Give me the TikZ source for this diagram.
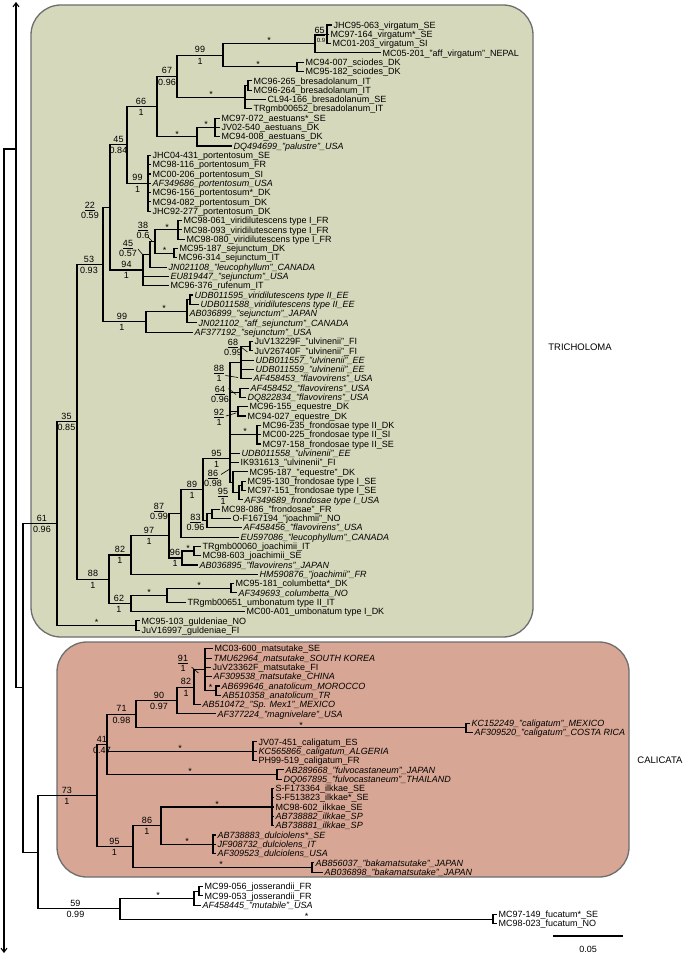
\documentclass[tikz,border=0pt]{standalone}
\usepackage{fontspec}
\setmainfont{Liberation Sans}
\usetikzlibrary{arrows.meta}
\definecolor{trigreen}{RGB}{214,216,187}
\definecolor{calpink}{RGB}{215,166,148}
\definecolor{boxedge}{RGB}{110,110,110}
\newcommand\labfont{\fontsize{9}{10}\selectfont}
\newcommand\mylf[4]{\coordinate (#1) at (#2,#3);\path (#1) ++(2.5,3.2) node[leaftext] (#1n) {#4};}
\newcommand\mylfi[4]{\coordinate (#1) at (#2,#3);\path (#1) ++(2.5,3.2) node[leaftext,font=\labfont\itshape] (#1n) {#4};}
\newcommand\myedges[2]{\foreach \kid in {#2}{\draw[branch] (#1) |- (\kid);}}
\newcommand\mysl[5]{\node[suplab] (#1t) at (#2,#3-5.4) {#4};\node[suplab] (#1b) at (#2,#3+5.8) {#5};}
\newcommand\mybar[5]{\node[suplab] (#1t) at (#2,#3-5) {#4};\node[suplab] (#1b) at (#2,#3+5) {#5};\draw[fracbar] ([yshift=-1.8pt]#1t.south west) -- ([yshift=-1.8pt]#1t.south east);}
\newcommand\mystar[3]{\node[starlab] (#1) at (#2,#3+0.5) {*};}
\tikzset{
  branch/.style={line width=1.1pt, line cap=rect},
  leaftext/.style={anchor=base west, inner sep=0pt, font=\labfont},
  suplab/.style={inner sep=0pt, font=\labfont},
  starlab/.style={anchor=south, inner sep=0pt, font=\labfont},
  fracbar/.style={line width=0.6pt},
  leader/.style={line width=0.6pt},
  clade/.style={draw=boxedge, line width=1.3pt, rounded corners=30pt},
  rootarrow/.style={line width=1.1pt, -{Straight Barb[length=4pt,width=6pt]}}
}
\begin{document}
\begin{tikzpicture}[x=1pt,y=-1pt]
\useasboundingbox (0,0) rectangle (685,957);
\fill[white] (0,0) rectangle (685,957);
\draw[clade, fill=trigreen] (31,5) rectangle (533,637);
\draw[clade, fill=calpink] (57,642) rectangle (629,877);
\node[font=\fontsize{9.5}{11}\selectfont] (tric) at (580,347) {TRICHOLOMA};
\node[font=\fontsize{9.5}{11}\selectfont] (cali) at (660,760) {CALICATA};

% ---------- leaves: Tricholoma
\mylf{r0}{331}{25.00}{JHC95-063\_virgatum\_SE}
\mylf{r1}{328}{34.31}{MC97-164\_virgatum*\_SE}
\mylf{r2}{330}{43.62}{MC01-203\_virgatum\_SI}
\mylf{r3}{380}{52.93}{MC05-201\_"aff\_virgatum"\_NEPAL}
\mylf{r4}{303}{62.24}{MC94-007\_sciodes\_DK}
\mylf{r5}{303}{71.55}{MC95-182\_sciodes\_DK}
\mylf{r6}{251}{80.86}{MC96-265\_bresadolanum\_IT}
\mylf{r7}{251}{90.17}{MC96-264\_bresadolanum\_IT}
\mylf{r8}{265}{99.48}{CL94-166\_bresadolanum\_SE}
\mylf{r9}{251}{108.79}{TRgmb00652\_bresadolanum\_IT}
\mylf{r10}{219}{118.10}{MC97-072\_aestuans*\_SE}
\mylf{r11}{219}{127.41}{JV02-540\_aestuans\_DK}
\mylf{r12}{219}{136.72}{MC94-008\_aestuans\_DK}
\mylfi{r13}{231}{146.03}{DQ494699\_"palustre"\_USA}
\mylf{r14}{150}{155.34}{JHC04-431\_portentosum\_SE}
\mylf{r15}{150}{164.65}{MC98-116\_portentosum\_FR}
\mylf{r16}{150}{173.96}{MC00-206\_portentosum\_SI}
\mylfi{r17}{150}{183.27}{AF349686\_portentosum\_USA}
\mylf{r18}{150}{192.58}{MC96-156\_portentosum*\_DK}
\mylf{r19}{150}{201.89}{MC94-082\_portentosum\_DK}
\mylf{r20}{150}{211.20}{JHC92-277\_portentosum\_DK}
\mylf{r21}{181}{220.51}{MC98-061\_viridilutescens type I\_FR}
\mylf{r22}{181}{229.82}{MC98-093\_viridilutescens type I\_FR}
\mylf{r23}{184}{239.13}{MC98-080\_viridilutescens type I\_FR}
\mylf{r24}{177}{248.44}{MC95-187\_sejunctum\_DK}
\mylf{r25}{176}{257.75}{MC96-314\_sejunctum\_IT}
\mylfi{r26}{166}{267.06}{JN021108\_"leucophyllum"\_CANADA}
\mylfi{r27}{168}{276.37}{EU819447\_"sejunctum"\_USA}
\mylf{r28}{168}{285.68}{MC96-376\_rufenum\_IT}
\mylfi{r29}{192}{294.99}{UDB011595\_viridilutescens type II\_EE}
\mylfi{r30}{198}{304.30}{UDB011588\_viridilutescens type II\_EE}
\mylfi{r31}{187}{313.61}{AB036899\_"sejunctum"\_JAPAN}
\mylfi{r32}{196}{322.92}{JN021102\_"aff\_sejunctum"\_CANADA}
\mylfi{r33}{192}{332.23}{AF377192\_"sejunctum"\_USA}
\mylf{r34}{252}{341.54}{JuV13229F\_"ulvinenii"\_FI}
\mylf{r35}{252}{350.85}{JuV26740F\_"ulvinenii"\_FI}
\mylfi{r36}{253}{360.16}{UDB011557\_"ulvinenii"\_EE}
\mylfi{r37}{253}{369.47}{UDB011559\_"ulvinenii"\_EE}
\mylfi{r38}{251}{378.78}{AF458453\_"flavovirens"\_USA}
\mylfi{r39}{248}{388.09}{AF458452\_"flavovirens"\_USA}
\mylfi{r40}{245}{397.40}{DQ822834\_"flavovirens"\_USA}
\mylf{r41}{247}{406.71}{MC96-155\_equestre\_DK}
\mylf{r42}{245}{416.02}{MC94-027\_equestre\_DK}
\mylf{r43}{260}{425.33}{MC96-235\_frondosae type II\_DK}
\mylf{r44}{260}{434.64}{MC00-225\_frondosae type II\_SI}
\mylf{r45}{260}{443.95}{MC97-158\_frondosae type II\_SE}
\mylfi{r46}{239}{453.26}{UDB011558\_"ulvinenii"\_EE}
\mylf{r47}{238}{462.57}{IK931613\_"ulvinenii"\_FI}
\mylf{r48}{247}{471.88}{MC95-187\_"equestre"\_DK}
\mylf{r49}{245}{481.19}{MC95-130\_frondosae type I\_SE}
\mylf{r50}{245}{490.50}{MC97-151\_frondosae type I\_SE}
\mylfi{r51}{242}{499.81}{AF349689\_frondosae type I\_USA}
\mylf{r52}{219}{509.12}{MC98-086\_"frondosae"\_FR}
\mylf{r53}{230}{518.43}{O-F167194\_"joachmii"\_NO}
\mylfi{r54}{241}{527.74}{AF458456\_"flavovirens"\_USA}
\mylfi{r55}{238}{537.05}{EU597086\_"leucophyllum"\_CANADA}
\mylf{r56}{200}{546.36}{TRgmb00060\_joachimii\_IT}
\mylf{r57}{200}{555.67}{MC98-603\_joachimii\_SE}
\mylfi{r58}{197}{564.98}{AB036895\_"flavovirens"\_JAPAN}
\mylfi{r59}{257}{574.29}{HM590876\_"joachimii"\_FR}
\mylf{r60}{233}{583.60}{MC95-181\_columbetta*\_DK}
\mylfi{r61}{236}{592.91}{AF349693\_columbetta\_NO}
\mylf{r62}{185}{602.22}{TRgmb00651\_umbonatum type II\_IT}
\mylf{r63}{244}{611.53}{MC00-A01\_umbonatum type I\_DK}
\mylf{r64}{139}{620.84}{MC95-103\_guldeniae\_NO}
\mylf{r65}{139}{630.15}{JuV16997\_guldeniae\_FI}
% ---------- leaves: Calicata
\mylf{r67}{212}{648.77}{MC03-600\_matsutake\_SE}
\mylfi{r68}{211}{658.08}{TMU62964\_matsutake\_SOUTH KOREA}
\mylf{r69}{210}{667.39}{JuV23362F\_matsutake\_FI}
\mylfi{r70}{211}{676.70}{AF309538\_matsutake\_CHINA}
\mylfi{r71}{219}{686.01}{AB699646\_anatolicum\_MOROCCO}
\mylfi{r72}{220}{695.32}{AB510358\_anatolicum\_TR}
\mylfi{r73}{200}{704.63}{AB510472\_"Sp. Mex1"\_MEXICO}
\mylfi{r74}{215}{713.94}{AF377224\_"magnivelare"\_USA}
\mylfi{r75}{469}{723.25}{KC152249\_"caligatum"\_MEXICO}
\mylfi{r76}{472}{732.56}{AF309520\_"caligatum"\_COSTA RICA}
\mylf{r77}{256}{741.87}{JV07-451\_caligatum\_ES}
\mylfi{r78}{256}{751.18}{KC565866\_caligatum\_ALGERIA}
\mylf{r79}{256}{760.49}{PH99-519\_caligatum\_FR}
\mylfi{r80}{283}{769.80}{AB289668\_"fulvocastaneum"\_JAPAN}
\mylfi{r81}{281}{779.11}{DQ067895\_"fulvocastaneum"\_THAILAND}
\mylf{r82}{273}{788.42}{S-F173364\_ilkkae\_SE}
\mylf{r83}{273}{797.73}{S-F513823\_ilkkae*\_SE}
\mylf{r84}{273}{807.04}{MC98-602\_ilkkae\_SE}
\mylfi{r85}{273}{816.35}{AB738882\_ilkkae\_SP}
\mylfi{r86}{273}{825.66}{AB738881\_ilkkae\_SP}
\mylfi{r87}{215}{834.97}{AB738883\_dulciolens*\_SE}
\mylfi{r88}{215}{844.28}{JF908732\_dulciolens\_IT}
\mylfi{r89}{215}{853.59}{AF309523\_dulciolens\_USA}
\mylfi{r90}{313}{862.90}{AB856037\_"bakamatsutake"\_JAPAN}
\mylfi{r91}{322}{872.21}{AB036898\_"bakamatsutake"\_JAPAN}
% ---------- leaves: outgroups
\mylf{r92}{202}{886.5}{MC99-056\_josserandii\_FR}
\mylf{r93}{202}{895.8}{MC99-053\_josserandii\_FR}
\mylfi{r94}{200}{905.1}{AF458445\_"mutabile"\_USA}
\mylf{r95}{496}{914.4}{MC97-149\_fucatum*\_SE}
\mylf{r96}{496}{923.7}{MC98-023\_fucatum\_NO}

% ---------- internal nodes
\coordinate (V1) at (327,34.31);
\coordinate (V) at (315,43.62);
\coordinate (S) at (297,66.90);
\coordinate (N99a) at (223,55.26);
\coordinate (B1) at (248,85.52);
\coordinate (B) at (245,97.16);
\coordinate (N67) at (177,76.21);
\coordinate (AE1) at (215,127.41);
\coordinate (AE) at (197,136.72);
\coordinate (N66) at (157,106.47);
\coordinate (POR) at (148,183.27);
\coordinate (N45a) at (127,144.87);
\coordinate (VT1) at (178,229.82);
\coordinate (SJ) at (174,253.10);
\coordinate (N38) at (155,241.46);
\coordinate (N45b) at (150,254.26);
\coordinate (N94) at (143,269.97);
\coordinate (N22) at (110,207.42);
\coordinate (UP) at (190,299.65);
\coordinate (U1) at (187,311.29);
\coordinate (N99b) at (146,321.76);
\coordinate (N53) at (103,264.59);
\coordinate (N68) at (250,346.20);
\coordinate (N88u) at (241,362.49);
\coordinate (N64) at (240,392.75);
\coordinate (N92) at (238,411.37);
\coordinate (FII) at (257,434.64);
\coordinate (F1p) at (242,485.85);
\coordinate (F1) at (239,492.83);
\coordinate (N86) at (233,482.36);
\coordinate (N95) at (230,458.5);
\coordinate (S1) at (212,513.78);
\coordinate (S2) at (207,520.76);
\coordinate (N89) at (203,489.63);
\coordinate (N87) at (181,513.34);
\coordinate (JP) at (194,551.02);
\coordinate (N96) at (182,558.0);
\coordinate (N97) at (169,535.67);
\coordinate (N82) at (131,554.98);
\coordinate (COL) at (231,588.26);
\coordinate (CU) at (167,595.24);
\coordinate (N62) at (131,603.39);
\coordinate (N88) at (109,579.19);
\coordinate (N35) at (77,421.89);
\coordinate (GUL) at (136,625.50);
\coordinate (N61) at (57,523.70);
\coordinate (ANA) at (216,690.67);
\coordinate (M) at (205,669.72);
\coordinate (N82c) at (194,687.18);
\coordinate (N90) at (177,700.56);
\coordinate (MEX) at (466,727.9);
\coordinate (N71) at (136,714.23);
\coordinate (JV) at (253,751.18);
\coordinate (FUL) at (277,774.46);
\coordinate (N41) at (107,744.35);
\coordinate (ILK) at (272,807.04);
\coordinate (DUL) at (213,844.28);
\coordinate (N86c) at (161,825.66);
\coordinate (BAK) at (312,867.56);
\coordinate (N95c) at (133,846.61);
\coordinate (N73) at (97,795.48);
\coordinate (J1) at (199,891.15);
\coordinate (J) at (194,898.13);
\coordinate (FUC) at (493,919.05);
\coordinate (N59) at (120,908.59);
\coordinate (N38c) at (38,852.04);
\coordinate (N23) at (23,687.87);
\coordinate (R1) at (16,687.87);
\coordinate (Rtop) at (16,2);
\coordinate (Rj) at (16,149);
\coordinate (Rk) at (4,149);
\coordinate (Rbot) at (4,953);

% ---------- branches
\myedges{V1}{r0,r1,r2}
\myedges{V}{V1,r3}
\myedges{S}{r4,r5}
\myedges{N99a}{V,S}
\myedges{B1}{r6,r7}
\myedges{B}{B1,r8,r9}
\myedges{N67}{N99a,B}
\myedges{AE1}{r10,r11,r12}
\myedges{AE}{AE1,r13}
\myedges{N66}{N67,AE}
\myedges{POR}{r14,r15,r16,r17,r18,r19,r20}
\myedges{N45a}{N66,POR}
\myedges{VT1}{r21,r22,r23}
\myedges{SJ}{r24,r25}
\myedges{N38}{VT1,SJ}
\myedges{N45b}{N38,r26}
\myedges{N94}{N45b,r27,r28}
\myedges{N22}{N45a,N94}
\myedges{UP}{r29,r30}
\myedges{U1}{UP,r31,r32}
\myedges{N99b}{U1,r33}
\myedges{N53}{N22,N99b}
\myedges{N68}{r34,r35}
\myedges{N88u}{N68,r36,r37,r38}
\myedges{N64}{r39,r40}
\myedges{N92}{r41,r42}
\myedges{FII}{r43,r44,r45}
\myedges{F1p}{r49,r50}
\myedges{F1}{F1p,r51}
\myedges{N86}{r48,F1}
\myedges{N95}{N88u,N64,N92,FII,r46,r47,N86}
\myedges{S1}{r52,r53}
\myedges{S2}{S1,r54}
\myedges{N89}{N95,S2}
\myedges{N87}{N89,r55}
\myedges{JP}{r56,r57}
\myedges{N96}{JP,r58}
\myedges{N97}{N87,N96}
\myedges{N82}{N97,r59}
\myedges{COL}{r60,r61}
\myedges{CU}{COL,r62}
\myedges{N62}{CU,r63}
\myedges{N88}{N82,N62}
\myedges{N35}{N53,N88}
\myedges{GUL}{r64,r65}
\myedges{N61}{N35,GUL}
\myedges{ANA}{r71,r72}
\myedges{M}{r67,r68,r69,r70,ANA}
\myedges{N82c}{M,r73}
\myedges{N90}{N82c,r74}
\myedges{MEX}{r75,r76}
\myedges{N71}{N90,MEX}
\myedges{JV}{r77,r78,r79}
\myedges{FUL}{r80,r81}
\myedges{N41}{N71,JV,FUL}
\myedges{ILK}{r82,r83,r84,r85,r86}
\myedges{DUL}{r87,r88,r89}
\myedges{N86c}{ILK,DUL}
\myedges{BAK}{r90,r91}
\myedges{N95c}{N86c,BAK}
\myedges{N73}{N41,N95c}
\myedges{J1}{r92,r93}
\myedges{J}{J1,r94}
\myedges{FUC}{r95,r96}
\myedges{N59}{J,FUC}
\myedges{N38c}{N73,N59}
\myedges{N23}{N61,N38c}
\draw[branch] (R1) -- (N23);
\draw[rootarrow] (R1) -- (Rtop);
\draw[branch] (Rj) -- (Rk);
\draw[rootarrow] (Rk) -- (Rbot);

% ---------- support values
\mysl{L1}{200}{55.26}{99}{1}
\mysl{L2}{167}{76.21}{67}{0.96}
\mysl{L3}{141}{106.47}{66}{1}
\mysl{L4}{118.5}{144.87}{45}{0.84}
\mysl{L5}{137.5}{183.27}{99}{1}
\mysl{L7}{126.5}{269.97}{94}{1}
\mysl{L8}{122}{321.76}{99}{1}
\mysl{L9}{89}{264.59}{53}{0.93}
\mysl{L10}{66.5}{421.89}{35}{0.85}
\mysl{L11}{42}{523.70}{61}{0.96}
\mysl{L12}{93}{579.19}{88}{1}
\mysl{L13}{120}{554.98}{82}{1}
\mysl{L14}{119}{603.39}{62}{1}
\mysl{L15}{149}{535.67}{97}{1}
\mysl{L16}{175}{558.0}{96}{1}
\mysl{L17}{192}{489.63}{89}{1}
\mysl{L18}{216.5}{458.5}{95}{1}
\mysl{L19}{186}{687.18}{82}{1}
\mysl{L20}{159}{700.56}{90}{0.97}
\mysl{L21}{121.5}{714.23}{71}{0.98}
\mysl{L22}{102}{744.35}{41}{0.47}
\mysl{L23}{67}{795.48}{73}{1}
\mysl{L24}{147}{825.66}{86}{1}
\mysl{L25}{114.5}{846.61}{95}{1}
\mysl{L26}{75.5}{908.59}{59}{0.99}
% barred labels
\node[suplab] (Q1t) at (319.5,30) {65};
\node[suplab,font=\fontsize{6}{7}\selectfont] (Q1b) at (321,40) {0.9};
\draw[fracbar] ([yshift=-1.8pt]Q1t.south west) -- ([yshift=-1.8pt]Q1t.south east);
\mybar{Q2}{90}{210}{22}{0.59}
\mybar{Q3}{143}{230.5}{38}{0.6}
\mybar{Q6b}{128}{248}{45}{0.57}
\mybar{Q4}{233}{347}{68}{0.99}
\mybar{Q5}{219}{373}{88}{1}
\mybar{Q6}{220}{394.5}{64}{0.96}
\mybar{Q7}{219}{417}{92}{1}
\mybar{Q8}{213}{478.5}{86}{0.98}
\mybar{Q9}{223}{496.5}{95}{1}
\mybar{Q10}{159}{511}{87}{0.99}
\mybar{Q11}{195.5}{522.5}{83}{0.96}
\mybar{Q12}{183}{663}{91}{1}
% leaders
\coordinate (k3a) at (148,237); \coordinate (k3b) at (152,241);
\coordinate (k6ba) at (138,249); \coordinate (k6bb) at (143,255);
\coordinate (k4a) at (241,347); \coordinate (k4b) at (247.5,352);
\coordinate (k5a) at (225.5,375.5); \coordinate (k5b) at (238,377.5);
\coordinate (k6a) at (228.5,388.5); \coordinate (k6b) at (236,394.5);
\coordinate (k7a) at (226,416); \coordinate (k7b) at (236,413);
\coordinate (k8a) at (221,474.5); \coordinate (k8b) at (229,469.5);
\coordinate (k12a) at (191.5,667); \coordinate (k12b) at (198.5,673);
\draw[leader] (k3a) -- (k3b);
\draw[leader] (k6ba) -- (k6bb);
\draw[leader] (k4a) -- (k4b);
\draw[leader] (k5a) -- (k5b);
\draw[leader] (k6a) -- (k6b);
\draw[leader] (k7a) -- (k7b);
\draw[leader] (k8a) -- (k8b);
\draw[leader] (k12a) -- (k12b);

% ---------- asterisks
\mystar{st1}{269}{43.62}
\mystar{st2}{258}{66.90}
\mystar{st3}{211}{97.16}
\mystar{st4}{206}{127.41}
\mystar{st5}{177}{136.72}
\mystar{st6}{167}{229.82}
\mystar{st7}{164.5}{253.10}
\mystar{st8}{164}{311.29}
\mystar{st9}{245}{434.64}
\mystar{st10}{188}{551.02}
\mystar{st11}{199}{588.26}
\mystar{st12}{149}{595.24}
\mystar{st13}{96.5}{625.50}
\mystar{st14}{210.5}{690.67}
\mystar{st15}{301}{727.9}
\mystar{st16}{180}{751.18}
\mystar{st17}{190}{774.46}
\mystar{st18}{217}{807.04}
\mystar{st19}{187}{844.28}
\mystar{st20}{221}{867.56}
\mystar{st21}{158}{898.13}
\mystar{st22}{306.5}{919.05}

% ---------- scale bar
\coordinate (sb1) at (554,936);
\coordinate (sb2) at (622,936);
\draw[branch] (sb1) -- (sb2);
\node[suplab] (sbl) at (588,949) {0.05};
\end{tikzpicture}
\end{document}
